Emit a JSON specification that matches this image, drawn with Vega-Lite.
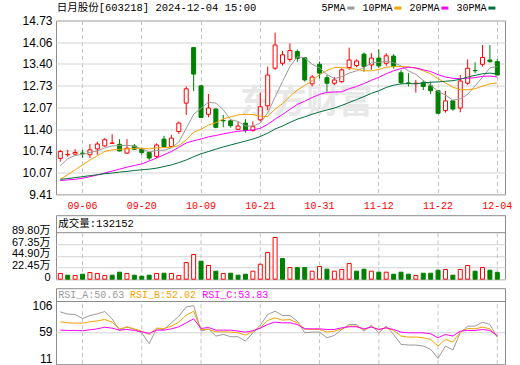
{
"$schema": "https://vega.github.io/schema/vega-lite/v6.json",
"autosize": {"type": "none"},
"padding": {"left": 56, "top": 20.5, "right": 464, "bottom": 344.5},
"background": "#ffffff",
"config": {"view": {"stroke": "#8c8c8c", "strokeWidth": 1}, "font": "Liberation Sans"},
"datasets": {"k": [
{"d":"09-03","o":10.51,"h":10.77,"l":10.41,"c":10.72,"v":11.0,"5PMA":10.28,"10PMA":9.87,"20PMA":9.83,"30PMA":9.87,"ra":97.0,"rb":78.9,"rc":63.8},
{"d":"09-04","o":10.62,"h":10.77,"l":10.56,"c":10.63,"v":7.7,"5PMA":10.50,"10PMA":10.01,"20PMA":9.85,"30PMA":9.89,"ra":92.8,"rb":77.1,"rc":63.2},
{"d":"09-05","o":10.64,"h":10.79,"l":10.59,"c":10.69,"v":7.0,"5PMA":10.60,"10PMA":10.16,"20PMA":9.87,"30PMA":9.92,"ra":92.2,"rb":76.5,"rc":63.2},
{"d":"09-06","o":10.67,"h":10.77,"l":10.53,"c":10.66,"v":9.6,"5PMA":10.63,"10PMA":10.31,"20PMA":9.90,"30PMA":9.95,"ra":84.9,"rb":76.5,"rc":62.6},
{"d":"09-09","o":10.62,"h":10.95,"l":10.52,"c":10.77,"v":12.8,"5PMA":10.69,"10PMA":10.46,"20PMA":9.95,"30PMA":9.98,"ra":90.3,"rb":78.9,"rc":64.4},
{"d":"09-10","o":10.80,"h":11.02,"l":10.62,"c":10.95,"v":11.0,"5PMA":10.74,"10PMA":10.59,"20PMA":10.00,"30PMA":10.01,"ra":93.4,"rb":80.7,"rc":66.2},
{"d":"09-11","o":10.89,"h":11.13,"l":10.87,"c":11.08,"v":7.0,"5PMA":10.83,"10PMA":10.72,"20PMA":10.06,"30PMA":10.04,"ra":97.6,"rb":83.1,"rc":69.2},
{"d":"09-12","o":10.97,"h":11.25,"l":10.96,"c":10.98,"v":7.7,"5PMA":10.89,"10PMA":10.77,"20PMA":10.12,"30PMA":10.06,"ra":84.3,"rb":78.3,"rc":67.4},
{"d":"09-13","o":10.94,"h":11.10,"l":10.72,"c":10.74,"v":13.5,"5PMA":10.90,"10PMA":10.79,"20PMA":10.18,"30PMA":10.09,"ra":63.2,"rb":66.2,"rc":63.8},
{"d":"09-18","o":10.67,"h":11.10,"l":10.65,"c":10.82,"v":11.0,"5PMA":10.91,"10PMA":10.80,"20PMA":10.24,"30PMA":10.11,"ra":69.9,"rb":69.2,"rc":65.0},
{"d":"09-19","o":10.89,"h":10.95,"l":10.77,"c":10.79,"v":7.7,"5PMA":10.88,"10PMA":10.81,"20PMA":10.29,"30PMA":10.14,"ra":65.0,"rb":66.2,"rc":63.2},
{"d":"09-20","o":10.79,"h":10.82,"l":10.62,"c":10.69,"v":5.8,"5PMA":10.80,"10PMA":10.82,"20PMA":10.34,"30PMA":10.16,"ra":59.0,"rb":62.0,"rc":60.8},
{"d":"09-23","o":10.69,"h":10.70,"l":10.46,"c":10.52,"v":7.7,"5PMA":10.71,"10PMA":10.80,"20PMA":10.43,"30PMA":10.18,"ra":39.1,"rb":56.0,"rc":57.8},
{"d":"09-24","o":10.57,"h":10.97,"l":10.52,"c":10.92,"v":11.0,"5PMA":10.75,"10PMA":10.83,"20PMA":10.52,"30PMA":10.21,"ra":66.2,"rb":67.4,"rc":63.8},
{"d":"09-25","o":11.10,"h":11.20,"l":10.86,"c":10.87,"v":11.5,"5PMA":10.76,"10PMA":10.84,"20PMA":10.62,"30PMA":10.26,"ra":65.0,"rb":66.8,"rc":63.8},
{"d":"09-26","o":10.87,"h":11.23,"l":10.85,"c":11.13,"v":11.0,"5PMA":10.83,"10PMA":10.85,"20PMA":10.72,"30PMA":10.31,"ra":77.1,"rb":71.1,"rc":66.2},
{"d":"09-27","o":11.33,"h":11.64,"l":11.26,"c":11.59,"v":7.0,"5PMA":11.01,"10PMA":10.90,"20PMA":10.85,"30PMA":10.38,"ra":89.1,"rb":78.3,"rc":69.9},
{"d":"09-30","o":12.20,"h":12.71,"l":11.84,"c":12.64,"v":32.0,"5PMA":11.43,"10PMA":11.07,"20PMA":10.98,"30PMA":10.46,"ra":106.0,"rb":91.0,"rc":77.1},
{"d":"10-08","o":13.90,"h":13.92,"l":12.57,"c":13.09,"v":47.5,"5PMA":11.86,"10PMA":11.31,"20PMA":11.05,"30PMA":10.56,"ra":108.4,"rb":98.2,"rc":84.3},
{"d":"10-09","o":12.73,"h":12.75,"l":11.76,"c":11.76,"v":34.6,"5PMA":12.04,"10PMA":11.40,"20PMA":11.10,"30PMA":10.65,"ra":62.0,"rb":65.0,"rc":66.8},
{"d":"10-10","o":11.86,"h":12.48,"l":11.77,"c":12.05,"v":26.3,"5PMA":12.23,"10PMA":11.53,"20PMA":11.17,"30PMA":10.72,"ra":66.2,"rb":65.0,"rc":68.6},
{"d":"10-11","o":12.02,"h":12.04,"l":11.43,"c":11.46,"v":15.4,"5PMA":12.20,"10PMA":11.60,"20PMA":11.21,"30PMA":10.79,"ra":53.0,"rb":60.8,"rc":63.8},
{"d":"10-14","o":11.67,"h":11.84,"l":11.46,"c":11.66,"v":11.0,"5PMA":12.00,"10PMA":11.72,"20PMA":11.26,"30PMA":10.86,"ra":56.0,"rb":60.8,"rc":63.8},
{"d":"10-15","o":11.66,"h":11.71,"l":11.45,"c":11.51,"v":11.5,"5PMA":11.69,"10PMA":11.78,"20PMA":11.30,"30PMA":10.92,"ra":51.8,"rb":60.2,"rc":63.8},
{"d":"10-16","o":11.40,"h":11.64,"l":11.38,"c":11.50,"v":7.7,"5PMA":11.64,"10PMA":11.84,"20PMA":11.34,"30PMA":10.98,"ra":51.8,"rb":59.0,"rc":62.0},
{"d":"10-17","o":11.59,"h":11.71,"l":11.30,"c":11.36,"v":9.6,"5PMA":11.50,"10PMA":11.86,"20PMA":11.36,"30PMA":11.04,"ra":43.9,"rb":54.8,"rc":60.2},
{"d":"10-18","o":11.36,"h":11.64,"l":11.33,"c":11.48,"v":15.4,"5PMA":11.50,"10PMA":11.85,"20PMA":11.38,"30PMA":11.10,"ra":59.0,"rb":61.4,"rc":62.6},
{"d":"10-21","o":11.69,"h":12.52,"l":11.64,"c":12.09,"v":28.8,"5PMA":11.59,"10PMA":11.80,"20PMA":11.43,"30PMA":11.18,"ra":72.9,"rb":68.0,"rc":67.4},
{"d":"10-22","o":12.12,"h":13.32,"l":11.99,"c":13.06,"v":51.3,"5PMA":11.90,"10PMA":11.79,"20PMA":11.55,"30PMA":11.28,"ra":92.2,"rb":81.3,"rc":74.1},
{"d":"10-23","o":13.27,"h":14.36,"l":13.22,"c":13.98,"v":80.2,"5PMA":12.39,"10PMA":12.02,"20PMA":11.71,"30PMA":11.41,"ra":98.2,"rb":86.1,"rc":78.3},
{"d":"10-24","o":13.42,"h":13.80,"l":13.35,"c":13.68,"v":39.7,"5PMA":12.86,"10PMA":12.18,"20PMA":11.85,"30PMA":11.50,"ra":90.3,"rb":81.9,"rc":77.1},
{"d":"10-25","o":13.54,"h":14.03,"l":13.47,"c":13.81,"v":22.4,"5PMA":13.32,"10PMA":12.41,"20PMA":12.01,"30PMA":11.61,"ra":90.3,"rb":83.1,"rc":77.1},
{"d":"10-28","o":13.78,"h":13.84,"l":13.47,"c":13.57,"v":22.4,"5PMA":13.62,"10PMA":12.60,"20PMA":12.16,"30PMA":11.71,"ra":80.1,"rb":77.1,"rc":74.1},
{"d":"10-29","o":13.59,"h":13.60,"l":12.86,"c":12.91,"v":22.4,"5PMA":13.59,"10PMA":12.74,"20PMA":12.26,"30PMA":11.78,"ra":59.0,"rb":66.2,"rc":66.2},
{"d":"10-30","o":12.79,"h":13.06,"l":12.71,"c":13.00,"v":15.4,"5PMA":13.39,"10PMA":12.89,"20PMA":12.37,"30PMA":11.86,"ra":60.2,"rb":65.0,"rc":66.2},
{"d":"10-31","o":13.39,"h":13.47,"l":12.96,"c":13.12,"v":24.4,"5PMA":13.28,"10PMA":13.07,"20PMA":12.47,"30PMA":11.93,"ra":60.2,"rb":65.0,"rc":66.2},
{"d":"11-01","o":12.98,"h":13.06,"l":12.55,"c":12.81,"v":19.2,"5PMA":13.08,"10PMA":13.20,"20PMA":12.53,"30PMA":11.99,"ra":50.0,"rb":60.2,"rc":65.0},
{"d":"11-04","o":12.81,"h":13.00,"l":12.75,"c":12.91,"v":15.4,"5PMA":12.95,"10PMA":13.29,"20PMA":12.54,"30PMA":12.05,"ra":54.2,"rb":62.0,"rc":65.0},
{"d":"11-05","o":12.86,"h":13.27,"l":12.82,"c":13.22,"v":18.6,"5PMA":13.01,"10PMA":13.30,"20PMA":12.55,"30PMA":12.13,"ra":65.0,"rb":66.2,"rc":68.0},
{"d":"11-06","o":13.29,"h":13.90,"l":13.22,"c":13.52,"v":30.1,"5PMA":13.12,"10PMA":13.26,"20PMA":12.64,"30PMA":12.22,"ra":74.1,"rb":71.1,"rc":69.9},
{"d":"11-07","o":13.35,"h":13.54,"l":13.30,"c":13.49,"v":15.4,"5PMA":13.19,"10PMA":13.24,"20PMA":12.71,"30PMA":12.31,"ra":74.1,"rb":71.1,"rc":69.9},
{"d":"11-08","o":13.70,"h":13.75,"l":13.16,"c":13.32,"v":19.2,"5PMA":13.29,"10PMA":13.19,"20PMA":12.80,"30PMA":12.40,"ra":62.0,"rb":65.0,"rc":66.2},
{"d":"11-11","o":13.37,"h":13.73,"l":13.22,"c":13.58,"v":15.4,"5PMA":13.43,"10PMA":13.19,"20PMA":12.90,"30PMA":12.50,"ra":72.9,"rb":69.9,"rc":69.2},
{"d":"11-12","o":13.58,"h":13.85,"l":13.27,"c":13.34,"v":13.5,"5PMA":13.45,"10PMA":13.23,"20PMA":12.99,"30PMA":12.58,"ra":59.0,"rb":65.0,"rc":65.0},
{"d":"11-13","o":13.42,"h":13.73,"l":13.34,"c":13.65,"v":13.5,"5PMA":13.48,"10PMA":13.30,"20PMA":13.10,"30PMA":12.68,"ra":71.1,"rb":68.0,"rc":68.0},
{"d":"11-14","o":13.64,"h":13.70,"l":13.26,"c":13.32,"v":9.6,"5PMA":13.44,"10PMA":13.32,"20PMA":13.19,"30PMA":12.75,"ra":56.0,"rb":63.2,"rc":65.0},
{"d":"11-15","o":13.13,"h":13.22,"l":12.78,"c":12.83,"v":13.5,"5PMA":13.34,"10PMA":13.32,"20PMA":13.26,"30PMA":12.79,"ra":37.9,"rb":53.0,"rc":60.2},
{"d":"11-18","o":12.82,"h":13.12,"l":12.71,"c":12.81,"v":9.6,"5PMA":13.19,"10PMA":13.31,"20PMA":13.30,"30PMA":12.80,"ra":36.7,"rb":51.2,"rc":59.0},
{"d":"11-19","o":12.80,"h":12.91,"l":12.52,"c":12.81,"v":7.1,"5PMA":13.08,"10PMA":13.27,"20PMA":13.28,"30PMA":12.79,"ra":36.7,"rb":51.2,"rc":59.0},
{"d":"11-20","o":12.83,"h":12.91,"l":12.60,"c":12.71,"v":11.5,"5PMA":12.90,"10PMA":13.19,"20PMA":13.22,"30PMA":12.82,"ra":34.9,"rb":50.0,"rc":59.0},
{"d":"11-21","o":12.73,"h":12.86,"l":12.48,"c":12.58,"v":11.5,"5PMA":12.75,"10PMA":13.10,"20PMA":13.17,"30PMA":12.84,"ra":28.9,"rb":47.0,"rc":57.2},
{"d":"11-22","o":12.58,"h":12.60,"l":11.89,"c":11.89,"v":17.3,"5PMA":12.56,"10PMA":12.95,"20PMA":13.07,"30PMA":12.85,"ra":12.6,"rb":34.9,"rc":50.0},
{"d":"11-25","o":11.97,"h":12.58,"l":11.91,"c":12.27,"v":18.6,"5PMA":12.45,"10PMA":12.82,"20PMA":13.00,"30PMA":12.87,"ra":34.9,"rb":47.0,"rc":56.0},
{"d":"11-26","o":12.27,"h":12.29,"l":11.97,"c":12.02,"v":7.7,"5PMA":12.29,"10PMA":12.69,"20PMA":12.96,"30PMA":12.89,"ra":27.7,"rb":42.1,"rc":53.0},
{"d":"11-27","o":12.05,"h":13.06,"l":11.92,"c":12.88,"v":18.6,"5PMA":12.33,"10PMA":12.61,"20PMA":12.95,"30PMA":12.93,"ra":59.0,"rb":60.2,"rc":62.0},
{"d":"11-28","o":12.81,"h":13.54,"l":12.76,"c":13.27,"v":26.3,"5PMA":12.47,"10PMA":12.61,"20PMA":12.96,"30PMA":13.00,"ra":71.1,"rb":66.8,"rc":63.2},
{"d":"11-29","o":13.20,"h":13.45,"l":13.12,"c":13.19,"v":15.4,"5PMA":12.73,"10PMA":12.64,"20PMA":12.98,"30PMA":13.05,"ra":71.1,"rb":66.2,"rc":63.2},
{"d":"12-02","o":13.39,"h":13.98,"l":13.32,"c":13.60,"v":22.4,"5PMA":12.99,"10PMA":12.72,"20PMA":13.02,"30PMA":13.10,"ra":78.3,"rb":69.2,"rc":65.0},
{"d":"12-03","o":13.52,"h":13.98,"l":13.44,"c":13.47,"v":17.3,"5PMA":13.28,"10PMA":12.79,"20PMA":13.03,"30PMA":13.12,"ra":74.1,"rb":66.2,"rc":63.2},
{"d":"12-04","o":13.47,"h":13.54,"l":13.06,"c":13.06,"v":13.2152,"5PMA":13.32,"10PMA":12.82,"20PMA":13.00,"30PMA":13.09,"ra":50.63,"rb":52.02,"rc":53.83}
]},
"bounds": "flush",
"spacing": 20.7,
"resolve": {"scale": {"x": "independent", "y": "independent", "color": "independent"}},
"vconcat": [
{
 "width": 449, "height": 173.8,
 "data": {"name": "k"},
 "encoding": {"x": {"field": "d", "type": "ordinal", "scale": {"type": "band", "paddingInner": 0, "paddingOuter": 0.31, "align": 0.131},
   "axis": {"values": ["09-06","09-20","10-09","10-21","10-31","11-12","11-22","12-04"], "bandPosition": 0.5, "title": null, "ticks": false, "domain": false, "labelColor": "#ff0000", "labelFont": "Liberation Mono", "labelFontSize": 10, "labelPadding": 6, "labelAngle": 0, "labelOverlap": false, "labelFlush": false, "grid": true, "gridDash": [4,3], "gridColor": "#c4c4c4"}}},
 "layer": [
  {"data": {"values": [{"t": "东方财富"}]},
   "mark": {"type": "text", "font": "Noto Sans CJK SC", "fontSize": 33, "fontWeight": "bold", "color": "#e8e8e8", "dx": 9, "align": "center", "baseline": "middle"},
   "encoding": {"x": {"datum": "10-28", "type": "ordinal"}, "y": {"datum": 12.19, "type": "quantitative"}, "text": {"field": "t"}}},
  {"mark": {"type": "rule", "strokeWidth": 1},
   "encoding": {
     "y": {"field": "l", "type": "quantitative", "scale": {"domain": [9.41, 14.73], "nice": false, "zero": false},
       "axis": {"values": [9.41,10.07,10.74,11.40,12.07,12.73,13.40,14.06,14.73], "tickCount": 20, "format": ".2f", "title": null, "ticks": false, "domain": false, "labelFont": "Liberation Sans", "labelFontSize": 12, "labelColor": "#000000", "labelPadding": 4, "labelFlush": false, "labelOverlap": false, "grid": true, "gridColor": "#d4d4d4"}},
     "y2": {"field": "h"},
     "color": {"condition": {"test": "datum.c >= datum.o", "value": "#ff0000"}, "value": "#008000"}}},
  {"mark": {"type": "bar", "size": 4, "strokeWidth": 1},
   "encoding": {
     "y": {"field": "o", "type": "quantitative"},
     "y2": {"field": "c"},
     "fill": {"condition": {"test": "datum.c >= datum.o", "value": "#ffffff"}, "value": "#008000"},
     "stroke": {"condition": {"test": "datum.c >= datum.o", "value": "#ff0000"}, "value": "#008000"}}},
  {"transform": [{"fold": ["5PMA","10PMA","20PMA","30PMA"], "as": ["series","val"]}],
   "mark": {"type": "line", "strokeWidth": 1},
   "encoding": {
     "y": {"field": "val", "type": "quantitative"},
     "color": {"field": "series", "type": "nominal",
       "scale": {"domain": ["5PMA","10PMA","20PMA","30PMA"], "range": ["#9a9a9a","#f5a300","#ff00ff","#00703c"]},
       "legend": {"orient": "none", "legendX": 289.4, "legendY": -18.2, "direction": "horizontal", "title": null, "symbolType": "stroke", "symbolStrokeWidth": 3, "symbolSize": 50, "labelAlign": "right", "labelOffset": -11, "labelFont": "Liberation Mono", "labelFontSize": 10, "labelColor": "#000000", "columnPadding": 0, "padding": 0}}}},
  {"data": {"values": [{"t": "日月股份[603218] 2024-12-04 15:00"}]},
   "mark": {"type": "text", "font": "Liberation Mono, Noto Sans CJK SC", "fontSize": 10.5, "color": "#000000", "dx": -3.6, "align": "left", "baseline": "middle"},
   "encoding": {"x": {"datum": "09-03", "type": "ordinal"}, "y": {"datum": 15.1, "type": "quantitative"}, "text": {"field": "t"}}}
 ]
},
{
 "bounds": "flush",
 "spacing": 9,
 "resolve": {"scale": {"x": "independent", "y": "independent"}},
 "vconcat": [
  {
   "width": 449, "height": 64,
   "encoding": {"x": {"field": "d", "type": "ordinal", "scale": {"type": "band", "paddingInner": 0, "paddingOuter": 0.31, "align": 0.131}, "axis": null}},
   "layer": [
    {"data": {"name": "k"},
     "transform": [{"filter": "indexof(['09-06','09-20','10-09','10-21','10-31','11-12','11-22','12-04'], datum.d) >= 0"}],
     "mark": {"type": "rule", "strokeDash": [4,3], "color": "#c4c4c4", "strokeWidth": 1},
     "encoding": {"y": {"datum": 0, "type": "quantitative"}, "y2": {"datum": 89.8}}},
    {"data": {"name": "k"},
     "transform": [{"window": [{"op": "lag", "field": "c", "as": "pc"}]}],
     "mark": {"type": "bar", "size": 4, "strokeWidth": 1},
     "encoding": {
       "y": {"field": "v", "type": "quantitative", "scale": {"domain": [0, 123.1], "nice": false, "zero": true},
         "axis": {"values": [0, 22.45, 44.9, 67.35, 89.8], "tickCount": 20, "labelExpr": "datum.value == 0 ? '0' : format(datum.value, '.2f') + '万'", "title": null, "ticks": false, "domain": false, "labelFont": "Liberation Sans, Noto Sans CJK SC", "labelFontSize": 11, "labelColor": "#000000", "labelPadding": 6, "labelOffset": -2, "labelFlush": false, "labelOverlap": false, "grid": true,
           "gridColor": {"condition": {"test": "datum.value > 89", "value": "#8c8c8c"}, "value": "#d4d4d4"}}},
       "fill": {"condition": {"test": "datum.pc == null || datum.c >= datum.pc", "value": "#ffffff"}, "value": "#008000"},
       "stroke": {"condition": {"test": "datum.pc == null || datum.c >= datum.pc", "value": "#ff0000"}, "value": "#008000"}}},
    {"data": {"values": [{"t": "成交量:132152"}]},
     "mark": {"type": "text", "font": "Liberation Mono, Noto Sans CJK SC", "fontSize": 10.5, "color": "#000000", "dx": -2, "align": "left", "baseline": "middle"},
     "encoding": {"x": {"datum": "09-03", "type": "ordinal"}, "y": {"datum": 105.8, "type": "quantitative"}, "text": {"field": "t"}}}
   ]
  },
  {
   "width": 449, "height": 76,
   "encoding": {"x": {"field": "d", "type": "ordinal", "scale": {"type": "band", "paddingInner": 0, "paddingOuter": 0.31, "align": 0.131}, "axis": null}},
   "layer": [
    {"data": {"name": "k"},
     "transform": [{"filter": "indexof(['09-06','09-20','10-09','10-21','10-31','11-12','11-22','12-04'], datum.d) >= 0"}],
     "mark": {"type": "rule", "strokeDash": [4,3], "color": "#c4c4c4", "strokeWidth": 1},
     "encoding": {"y": {"datum": 1.9, "type": "quantitative"}, "y2": {"datum": 115.8}}},
    {"data": {"values": [{}]},
     "mark": {"type": "rule", "color": "#d4d4d4", "strokeWidth": 1},
     "encoding": {"x": {"value": 0}, "x2": {"value": 449}, "y": {"datum": 59, "type": "quantitative"}}},
    {"data": {"values": [{}]},
     "mark": {"type": "rule", "color": "#8c8c8c", "strokeWidth": 1},
     "encoding": {"x": {"value": 0}, "x2": {"value": 449}, "y": {"datum": 115.8, "type": "quantitative"}}},
    {"data": {"name": "k"},
     "mark": {"type": "line", "color": "#9a9a9a", "strokeWidth": 1},
     "encoding": {"y": {"field": "ra", "type": "quantitative", "scale": {"domain": [1.9, 140], "nice": false, "zero": false},
       "axis": {"values": [11, 59, 106], "tickCount": 20, "title": null, "ticks": false, "domain": false, "labelFont": "Liberation Sans", "labelFontSize": 12, "labelColor": "#000000", "labelPadding": 4, "labelOffset": -1, "labelFlush": false, "labelOverlap": false, "grid": false}}}},
    {"data": {"name": "k"},
     "mark": {"type": "line", "color": "#f5a300", "strokeWidth": 1},
     "encoding": {"y": {"field": "rb", "type": "quantitative"}}},
    {"data": {"name": "k"},
     "mark": {"type": "line", "color": "#ff00ff", "strokeWidth": 1},
     "encoding": {"y": {"field": "rc", "type": "quantitative"}}},
    {"data": {"values": [{"t": "RSI_A:50.63"}]},
     "mark": {"type": "text", "font": "Liberation Mono", "fontSize": 10, "color": "#9a9a9a", "dx": -2, "align": "left", "baseline": "middle"},
     "encoding": {"x": {"datum": "09-03", "type": "ordinal"}, "y": {"datum": 127.3, "type": "quantitative"}, "text": {"field": "t"}}},
    {"data": {"values": [{"t": "RSI_B:52.02"}]},
     "mark": {"type": "text", "font": "Liberation Mono", "fontSize": 10, "color": "#f5a300", "dx": 69.7, "align": "left", "baseline": "middle"},
     "encoding": {"x": {"datum": "09-03", "type": "ordinal"}, "y": {"datum": 127.3, "type": "quantitative"}, "text": {"field": "t"}}},
    {"data": {"values": [{"t": "RSI_C:53.83"}]},
     "mark": {"type": "text", "font": "Liberation Mono", "fontSize": 10, "color": "#ff00ff", "dx": 142, "align": "left", "baseline": "middle"},
     "encoding": {"x": {"datum": "09-03", "type": "ordinal"}, "y": {"datum": 127.3, "type": "quantitative"}, "text": {"field": "t"}}}
   ]
  }
 ]
}
]
}
